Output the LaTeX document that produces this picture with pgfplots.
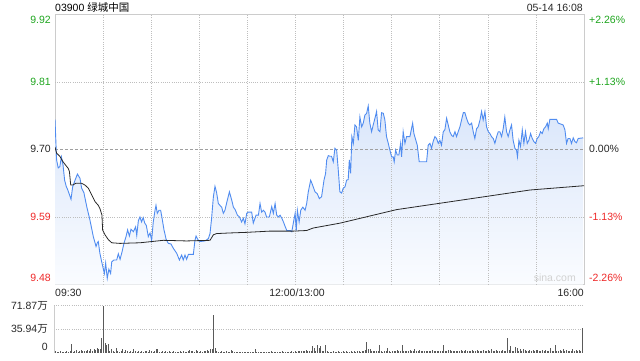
\documentclass[border=0pt]{standalone}
\usepackage{pgfplots}
\pgfplotsset{compat=1.18}
\usepackage{pgfplotstable}
\usepackage{fontspec}
\setmainfont{Liberation Sans}
\newfontfamily\cjk{Noto Sans CJK SC}
\definecolor{upc}{RGB}{30,165,30}
\definecolor{downc}{RGB}{238,40,40}
\definecolor{flatc}{RGB}{40,40,40}
\definecolor{framec}{RGB}{204,204,204}
\definecolor{gridc}{RGB}{190,190,190}
\definecolor{pricec}{RGB}{80,140,240}
\definecolor{avgc}{RGB}{40,40,40}
\definecolor{filltop}{RGB}{218,230,250}
\definecolor{fillbot}{RGB}{250,252,255}
\definecolor{barc}{RGB}{90,90,90}

\pgfplotstableread{
m p
0 9.749
1 9.683
2 9.670
3 9.672
4 9.688
5 9.675
6 9.650
7 9.640
8 9.634
10 9.619
11 9.639
12.5 9.650
14 9.660
15.6 9.653
16.6 9.637
18 9.630
19.8 9.607
21.8 9.585
23.9 9.558
25.6 9.542
26.4 9.548
27 9.550
28 9.531
29.3 9.515
30.8 9.498
31.6 9.515
32.6 9.490
33.6 9.505
34.7 9.498
35.4 9.517
36.8 9.520
38.5 9.520
39.5 9.530
40.6 9.521
41.8 9.533
43 9.547
44.3 9.558
45.3 9.569
46.4 9.559
47.4 9.570
48.9 9.566
50.3 9.574
51 9.560
52 9.584
53 9.590
54 9.582
55 9.589
56 9.580
57 9.576
58.2 9.558
59.3 9.564
60.3 9.552
61.3 9.582
62.4 9.601
63 9.609
63.8 9.596
64.9 9.601
65.9 9.601
66.8 9.588
68 9.569
69.3 9.554
70.7 9.547
72.4 9.546
73.8 9.539
75.9 9.531
77.6 9.520
79 9.528
80 9.520
81.1 9.528
82.1 9.521
83.2 9.529
86.3 9.529
87.3 9.552
88 9.559
89.4 9.552
90.4 9.550
93.6 9.551
95.7 9.555
96.7 9.563
97.7 9.588
98.8 9.623
99.8 9.640
100.8 9.630
101.9 9.612
102.9 9.609
104 9.606
105 9.596
106 9.601
107 9.612
108.8 9.631
110.3 9.617
111.3 9.606
112.4 9.602
113.8 9.593
115.1 9.590
116.4 9.582
117.5 9.588
118.5 9.579
119.6 9.596
120.6 9.598
122.7 9.598
123.7 9.580
125.4 9.593
126.9 9.593
127.9 9.612
128.9 9.598
130 9.601
131 9.598
132 9.590
133.7 9.590
135.2 9.607
136.2 9.596
137.3 9.612
138.3 9.593
139.4 9.590
140.4 9.593
141.5 9.588
142.5 9.582
143.5 9.575
144.6 9.568
146.7 9.568
147.7 9.566
148.8 9.582
149.8 9.596
150.5 9.568
151.2 9.601
152.3 9.582
153.3 9.601
154.6 9.606
156 9.601
157 9.612
158 9.631
159.5 9.650
160.7 9.642
162.2 9.631
163.6 9.628
164.9 9.620
166.3 9.623
167.8 9.650
168.8 9.661
169.5 9.683
170.5 9.690
171.5 9.689
172.5 9.689
173.6 9.680
174.6 9.702
175.7 9.699
176.7 9.667
177.7 9.631
178.8 9.629
179.8 9.637
180.9 9.639
181.9 9.650
182.9 9.651
183.6 9.683
184.4 9.661
185.2 9.721
186.1 9.710
187.1 9.740
188.1 9.737
189.2 9.715
190.2 9.753
191.3 9.737
192.3 9.743
193.3 9.756
194.4 9.759
195.4 9.771
196.4 9.743
197.5 9.729
198.5 9.740
199.6 9.751
200.6 9.762
201.6 9.732
202.7 9.729
203.7 9.760
204.8 9.759
205.8 9.748
206.8 9.721
207.9 9.710
208.9 9.699
210 9.688
211 9.688
211.6 9.680
212.5 9.699
213.5 9.691
214.5 9.691
215.6 9.710
216.2 9.688
217.2 9.729
218.3 9.710
219.3 9.721
221.4 9.721
223.1 9.743
223.9 9.726
225.1 9.715
226 9.707
227.2 9.680
231.8 9.680
232.8 9.707
233.9 9.710
234.9 9.702
235.9 9.713
237 9.721
238 9.718
239.1 9.710
240.1 9.715
241.1 9.707
242.2 9.729
243.2 9.732
244.3 9.751
245.3 9.740
246.3 9.729
247.4 9.723
248.4 9.721
249.5 9.729
250.5 9.721
251.5 9.729
252.6 9.737
253.6 9.748
254.7 9.760
255.7 9.760
256.7 9.751
257.8 9.743
258.8 9.740
259.9 9.743
260.9 9.729
261.9 9.718
263 9.734
264 9.737
265.1 9.748
266.1 9.762
267.1 9.748
268.2 9.762
269.2 9.737
270.3 9.729
271.3 9.726
272.3 9.721
273.4 9.718
274.4 9.710
275.5 9.721
276.5 9.729
277.5 9.729
278.6 9.721
279.6 9.734
280.6 9.753
281.7 9.729
282.7 9.721
283.8 9.732
284.8 9.740
285.8 9.715
286.9 9.702
287.9 9.699
288.5 9.688
289.4 9.715
290.4 9.705
291.5 9.732
292.5 9.710
293.5 9.729
294.6 9.710
295.6 9.715
296.7 9.726
297.7 9.718
298.7 9.713
299.8 9.710
300.8 9.718
301.8 9.721
302.9 9.729
303.9 9.726
305 9.734
306 9.737
307.1 9.743
307.7 9.734
308.7 9.749
312.9 9.749
313.9 9.743
317 9.740
318.1 9.732
319.1 9.710
320.1 9.718
321.2 9.718
322.2 9.710
323.3 9.719
324.3 9.713
325.3 9.711
326.4 9.718
329.5 9.719
}\pricetab

\pgfplotstableread{
m p
0 9.704
1 9.694
3 9.689
5 9.680
8.3 9.669
9 9.664
9.8 9.642
11 9.642
13 9.645
16.6 9.645
18.7 9.642
20.8 9.637
22.9 9.626
25 9.615
27 9.609
28 9.604
29.3 9.593
29.7 9.569
31.2 9.561
33.3 9.553
35.4 9.548
40.5 9.547
53 9.548
67.6 9.552
82 9.551
96.7 9.552
98.8 9.561
100.8 9.563
109 9.564
119.6 9.565
134 9.567
148.7 9.567
157 9.568
161 9.572
177.8 9.580
213 9.602
254.7 9.618
296.3 9.634
330 9.641
}\avgtab

\pgfplotstableread[row sep=\\]{
v\\
2.5\\1.5\\1.0\\2.0\\1.2\\0.8\\1.5\\3.0\\1.0\\2.2\\
13.5\\1.5\\2.0\\3.5\\1.0\\2.5\\4.0\\1.8\\3.0\\2.0\\
4.5\\2.5\\5.0\\3.0\\6.0\\4.0\\7.0\\5.5\\6.0\\22.0\\
71.87\\15.0\\12.0\\13.0\\3.0\\6.0\\2.0\\1.5\\7.0\\3.0\\
1.5\\2.5\\6.0\\1.0\\3.5\\2.0\\1.5\\2.0\\1.0\\5.0\\
3.0\\1.0\\2.5\\1.5\\2.5\\1.0\\2.0\\3.0\\1.5\\4.0\\
2.0\\1.5\\2.0\\5.0\\6.0\\1.0\\1.5\\2.0\\1.0\\2.5\\
1.0\\2.0\\1.5\\1.0\\2.5\\1.0\\1.5\\1.0\\2.0\\1.0\\
3.0\\1.5\\1.0\\2.0\\4.0\\2.0\\3.0\\1.5\\4.5\\2.0\\
1.0\\2.0\\1.5\\3.0\\2.0\\4.0\\3.0\\5.0\\6.0\\57.0\\
7.0\\2.0\\1.5\\1.0\\2.0\\1.5\\1.0\\2.5\\1.0\\1.5\\
3.5\\2.0\\1.0\\1.5\\1.0\\0.8\\1.2\\1.0\\0.8\\1.5\\
1.0\\0.8\\1.2\\1.0\\1.5\\5.0\\1.0\\1.2\\0.8\\1.0\\
1.5\\1.0\\0.8\\1.2\\1.0\\2.0\\1.0\\0.8\\1.2\\1.0\\
1.5\\1.0\\2.0\\1.2\\1.0\\0.8\\1.5\\1.0\\2.5\\1.0\\
3.0\\1.5\\2.0\\3.0\\2.5\\3.0\\2.0\\3.5\\2.0\\2.5\\
3.0\\10.0\\7.0\\3.0\\11.0\\7.0\\10.0\\3.0\\2.0\\11.0\\
2.0\\1.5\\1.5\\1.0\\2.0\\1.5\\1.0\\2.0\\1.0\\1.5\\
2.0\\1.0\\2.5\\1.0\\1.5\\3.0\\1.0\\2.5\\1.5\\3.0\\
2.0\\1.5\\3.0\\2.0\\4.0\\16.0\\6.0\\6.0\\3.0\\2.0\\
3.0\\2.5\\3.0\\11.0\\2.0\\1.5\\2.0\\2.5\\7.0\\2.0\\
1.5\\3.0\\2.0\\2.0\\4.0\\3.0\\3.0\\11.0\\2.5\\2.0\\
3.0\\2.0\\4.0\\3.0\\2.5\\5.0\\3.0\\2.0\\4.0\\3.0\\
2.5\\2.0\\3.0\\2.5\\2.0\\3.0\\4.0\\2.5\\3.0\\2.0\\
3.0\\3.0\\2.0\\11.0\\3.0\\2.0\\3.5\\4.0\\2.0\\3.0\\
2.5\\2.0\\3.0\\2.5\\4.0\\3.0\\2.0\\3.5\\3.0\\2.0\\
3.0\\4.0\\2.0\\3.0\\3.5\\2.5\\3.0\\2.0\\4.0\\3.0\\
2.0\\4.0\\3.0\\5.0\\2.0\\3.0\\4.0\\2.5\\3.0\\3.0\\
4.0\\3.0\\3.0\\22.0\\4.0\\10.0\\3.0\\3.0\\9.0\\7.0\\
3.0\\5.0\\2.0\\6.0\\4.0\\3.0\\2.0\\4.0\\3.0\\4.0\\
2.0\\3.5\\4.0\\3.0\\2.0\\4.0\\3.0\\3.5\\2.0\\3.0\\
7.0\\2.0\\3.0\\11.0\\2.5\\3.0\\4.0\\2.0\\5.0\\3.0\\
4.0\\3.0\\3.0\\2.0\\5.0\\3.0\\4.0\\2.0\\4.0\\3.0\\
38.0\\
}\voltab

\begin{document}
\begin{tikzpicture}[x=1pt,y=1pt,
  lab/.style={inner sep=0pt, font=\fontsize{10.5}{12}\selectfont},
  gl/.style={gridc, line width=0.6pt, dash pattern=on 1pt off 1.2pt}]
\path[use as bounding box] (0,0) rectangle (640,360);

% ---------- price panel ----------
\begin{axis}[at={(55pt,75.5pt)}, anchor=south west,
  width=529pt, height=270pt, scale only axis,
  xmin=0, xmax=330, ymin=9.48, ymax=9.92,
  xtick=\empty, ytick=\empty,
  axis line style={framec, line width=0.8pt},
  no markers]
  \addplot[draw=none, top color=filltop, bottom color=fillbot, forget plot]
    table[x=m, y=p] {\pricetab} -- (axis cs:329.5,9.48) -- (axis cs:0,9.48) -- cycle;
  \pgfplotsinvokeforeach{30,60,90,120,150,180,210,240,270,300}{
    \draw[gl] (axis cs:#1,9.48) -- (axis cs:#1,9.92);
  }
  \draw[gl] (axis cs:0,9.59) -- (axis cs:330,9.59);
  \draw[gl] (axis cs:0,9.81) -- (axis cs:330,9.81);
  \draw[gray!75, line width=0.6pt, dash pattern=on 3pt off 2pt] (axis cs:0,9.70) -- (axis cs:330,9.70);
  \addplot[pricec, line width=0.9pt] table[x=m, y=p] {\pricetab};
  \addplot[avgc, line width=0.8pt] table[x=m, y=p] {\avgtab};
\end{axis}

% ---------- volume panel ----------
\begin{axis}[at={(54pt,7.5pt)}, anchor=south west,
  width=530pt, height=47pt, scale only axis,
  xmin=-1, xmax=331, ymin=0, ymax=71.87,
  hide axis, no markers, clip=false]
  \draw[gl] (axis cs:-1,35.94) -- (axis cs:331,35.94);
  \draw[gl] (axis cs:-1,71.87) -- (axis cs:331,71.87);
  \draw[framec, line width=0.8pt] (axis cs:-1,0) -- (axis cs:-1,71.87);
  \addplot[ycomb, barc, line width=0.8pt] table[x expr=\coordindex, y=v] {\voltab};
\end{axis}

% ---------- texts ----------
\node[lab, anchor=west] at (55,352.5) {03900 {\cjk 绿城中国}};
\node[lab, anchor=east, text=flatc] at (583,352.5) {05-14 16:08};

\node[lab, anchor=east, text=upc] at (51,340) {9.92};
\node[lab, anchor=east, text=upc] at (51,278) {9.81};
\node[lab, anchor=east, text=flatc] at (51,211) {9.70};
\node[lab, anchor=east, text=downc] at (51,143) {9.59};
\node[lab, anchor=east, text=downc] at (51,82) {9.48};

\node[lab, anchor=west, text=upc] at (589,340) {+2.26\%};
\node[lab, anchor=west, text=upc] at (589,278) {+1.13\%};
\node[lab, anchor=west, text=flatc] at (589,211) {0.00\%};
\node[lab, anchor=west, text=downc] at (589,143) {-1.13\%};
\node[lab, anchor=west, text=downc] at (589,82) {-2.26\%};

\node[lab, anchor=west, text=flatc] at (55,67) {09:30};
\node[lab, anchor=center, text=flatc] at (297,67) {12:00/13:00};
\node[lab, anchor=east, text=flatc] at (584,67) {16:00};

\node[lab, anchor=east, text=gray!35] at (576,82) {sina.com};

\node[lab, anchor=east, text=flatc] at (48,54.5) {71.87{\cjk 万}};
\node[lab, anchor=east, text=flatc] at (48,31) {35.94{\cjk 万}};
\node[lab, anchor=east, text=flatc] at (48,13) {0};
\end{tikzpicture}
\end{document}
